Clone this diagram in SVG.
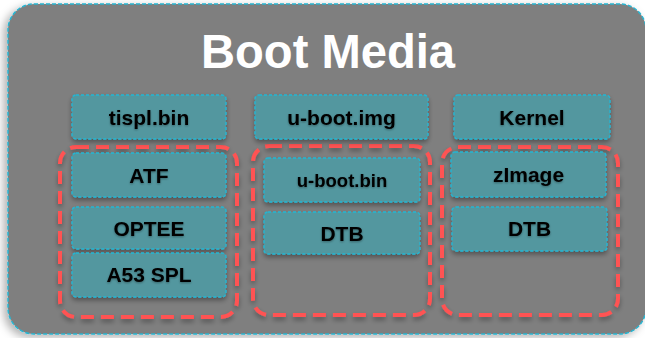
<svg xmlns="http://www.w3.org/2000/svg" width="645" height="338" viewBox="0 0 645 338">
  <defs>
    <filter id="sh" x="-20%" y="-20%" width="140%" height="150%">
      <feDropShadow dx="0" dy="3" stdDeviation="2.5" flood-color="#000" flood-opacity="0.35"/>
    </filter>
    <filter id="osh" x="-10%" y="-10%" width="120%" height="120%">
      <feDropShadow dx="-4" dy="3" stdDeviation="4" flood-color="#000" flood-opacity="0.3"/>
    </filter>
    <filter id="tsh" x="-10%" y="-30%" width="120%" height="160%">
      <feDropShadow dx="0" dy="1" stdDeviation="1.2" flood-color="#000" flood-opacity="0.35"/>
    </filter>
  </defs>
  <style>
    .outer { fill: #7f7f7f; stroke: #2ab4d0; stroke-width: 1.5; stroke-dasharray: 4 2; }
    .box { fill: #52979f; stroke: #22b6d4; stroke-width: 1.4; stroke-dasharray: 3 2; filter: url(#sh); }
    .grp { fill: none; stroke: #ff5252; stroke-width: 4; stroke-dasharray: 13 7; filter: url(#sh); }
    .lbl { font-family: "Liberation Sans", Arial, sans-serif; font-weight: bold; font-size: 21px; fill: #000; text-anchor: middle; filter: url(#tsh); }
    .title { font-family: "Liberation Sans", Arial, sans-serif; font-weight: bold; font-size: 48px; fill: #fff; text-anchor: middle; }
  </style>
  <rect width="645" height="338" fill="#ffffff"/>
  <g id="boot-media">
    <rect class="outer" x="8" y="4" width="638" height="330" rx="26" ry="26" filter="url(#osh)"/>
    <text class="title" x="328" y="68" textLength="254" lengthAdjust="spacingAndGlyphs">Boot Media</text>
  </g>
  <g id="groups">
    <rect id="grp-spl" class="grp" x="60" y="147" width="177" height="170" rx="16"/>
    <rect id="grp-uboot" class="grp" x="253" y="146" width="177" height="169" rx="16"/>
    <rect id="grp-kernel" class="grp" x="442" y="147" width="176" height="168" rx="16"/>
  </g>
  <g id="tispl">
    <rect class="box" x="72" y="95" width="154" height="44" rx="4"/>
    <text class="lbl" x="149" y="125">tispl.bin</text>
  </g>
  <g id="atf">
    <rect class="box" x="72" y="153" width="154" height="44" rx="4"/>
    <text class="lbl" x="149" y="183">ATF</text>
  </g>
  <g id="optee">
    <rect class="box" x="72" y="207" width="154" height="42" rx="4"/>
    <text class="lbl" x="149" y="236">OPTEE</text>
  </g>
  <g id="a53spl">
    <rect class="box" x="72" y="253" width="154" height="44" rx="4"/>
    <text class="lbl" x="149" y="282">A53 SPL</text>
  </g>
  <g id="uboot-img">
    <rect class="box" x="255" y="95" width="173" height="44" rx="4"/>
    <text class="lbl" x="341.5" y="125">u-boot.img</text>
  </g>
  <g id="uboot-bin">
    <rect class="box" x="264" y="158" width="156" height="44" rx="4"/>
    <text class="lbl" x="342" y="187" style="font-size:18.5px">u-boot.bin</text>
  </g>
  <g id="dtb-uboot">
    <rect class="box" x="264" y="212" width="156" height="42" rx="4"/>
    <text class="lbl" x="342" y="241">DTB</text>
  </g>
  <g id="kernel">
    <rect class="box" x="454" y="95" width="156" height="44" rx="4"/>
    <text class="lbl" x="532" y="125">Kernel</text>
  </g>
  <g id="zimage">
    <rect class="box" x="451" y="152" width="155" height="45" rx="4"/>
    <text class="lbl" x="528.5" y="182">zImage</text>
  </g>
  <g id="dtb-kernel">
    <rect class="box" x="452" y="207" width="155" height="44" rx="4"/>
    <text class="lbl" x="529.5" y="236">DTB</text>
  </g>
</svg>
